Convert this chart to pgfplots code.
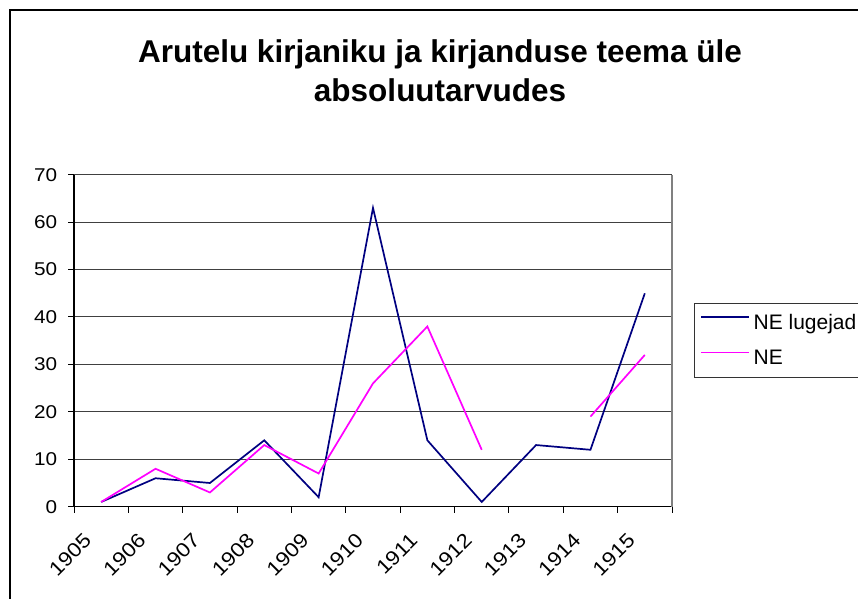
\documentclass[border=0pt]{standalone}
\usepackage{fontspec}
\setmainfont{Liberation Sans}
\newfontfamily\tickfont{Liberation Sans}[FakeStretch=1.12]
\usepackage{pgfplots}
\pgfplotsset{compat=1.18}
\usepackage{pgfplotstable}
\definecolor{navyline}{HTML}{000080}
\definecolor{magline}{HTML}{FF00FF}

\pgfplotstableread{
x y
0 1
1 6
2 5
3 14
4 2
5 63
6 14
7 1
8 13
9 12
10 45
}\lugejad
\pgfplotstableread{
x y
0 1
1 8
2 3
3 13
4 7
5 26
6 38
7 12
8 nan
9 19
10 32
}\ne

\begin{document}
\begin{tikzpicture}
\useasboundingbox (0,0) rectangle (858pt,598pt);
\begin{scope}
\clip (0,0) rectangle (858pt,598pt);
\draw[line width=1.5pt] (10pt,-20pt) -- (10pt,588pt) -- (880pt,588pt);
\end{scope}
\node[anchor=base,font=\fontsize{31.5}{36}\selectfont\bfseries,inner sep=0pt] at (440pt,535.7pt) {Arutelu kirjaniku ja kirjanduse teema üle};
\node[anchor=base,font=\fontsize{31.5}{36}\selectfont\bfseries,inner sep=0pt] at (440pt,496.3pt) {absoluutarvudes};
\begin{axis}[
  at={(74pt,91.3pt)}, anchor=south west,
  scale only axis, width=598pt, height=332pt,
  xmin=-0.5, xmax=10.5, ymin=0, ymax=70,
  axis x line=bottom, axis y line=left,
  axis line style={-, line width=1.2pt, black},
  ytick={0,10,...,70},
  ymajorgrids, grid style={black!75, line width=1pt},
  tick align=outside, major tick length=6pt,
  tick style={black, line width=1pt},
  /pgf/number format/assume math mode=true,
  yticklabel style={font=\tickfont\fontsize{18.5}{21}\selectfont, anchor=east, inner sep=0pt, xshift=-10.7pt},
  xtick={0,1,...,10},
  xticklabels={1905,1906,1907,1908,1909,1910,1911,1912,1913,1914,1915},
  xtick style={draw=none},
  xticklabel style={font=\tickfont\fontsize{20}{23}\selectfont, inner sep=0pt, anchor=north east, xshift=-18.5pt, yshift=-19pt, rotate=45},
  extra x ticks={-0.5,0.5,1.5,2.5,3.5,4.5,5.5,6.5,7.5,8.5,9.5,10.5},
  extra x tick labels={},
  extra x tick style={xtick style={draw=black, line width=1pt}},
  legend style={at={(1.0368,0.6145)}, anchor=north west, draw=black!80, line width=0.8pt,
    inner xsep=6pt, inner ysep=9.5pt, row sep=15pt,
    nodes={inner xsep=3.5pt, inner ysep=2pt},
    font=\fontsize{21}{24}\selectfont},
  legend cell align=left,
  legend image code/.code={\draw[#1] (0pt,5.8pt) -- (48pt,5.8pt);},
  unbounded coords=jump,
  clip=false,
]
\draw[black!50, line width=1.2pt] (rel axis cs:1,0) -- (rel axis cs:1,1);
\addplot[navyline, line width=1.7pt] table[x=x,y=y] {\lugejad};
\addlegendentry{NE lugejad}
\addplot[magline, line width=1.7pt] table[x=x,y=y] {\ne};
\addlegendentry{NE}
\end{axis}
\end{tikzpicture}
\end{document}
